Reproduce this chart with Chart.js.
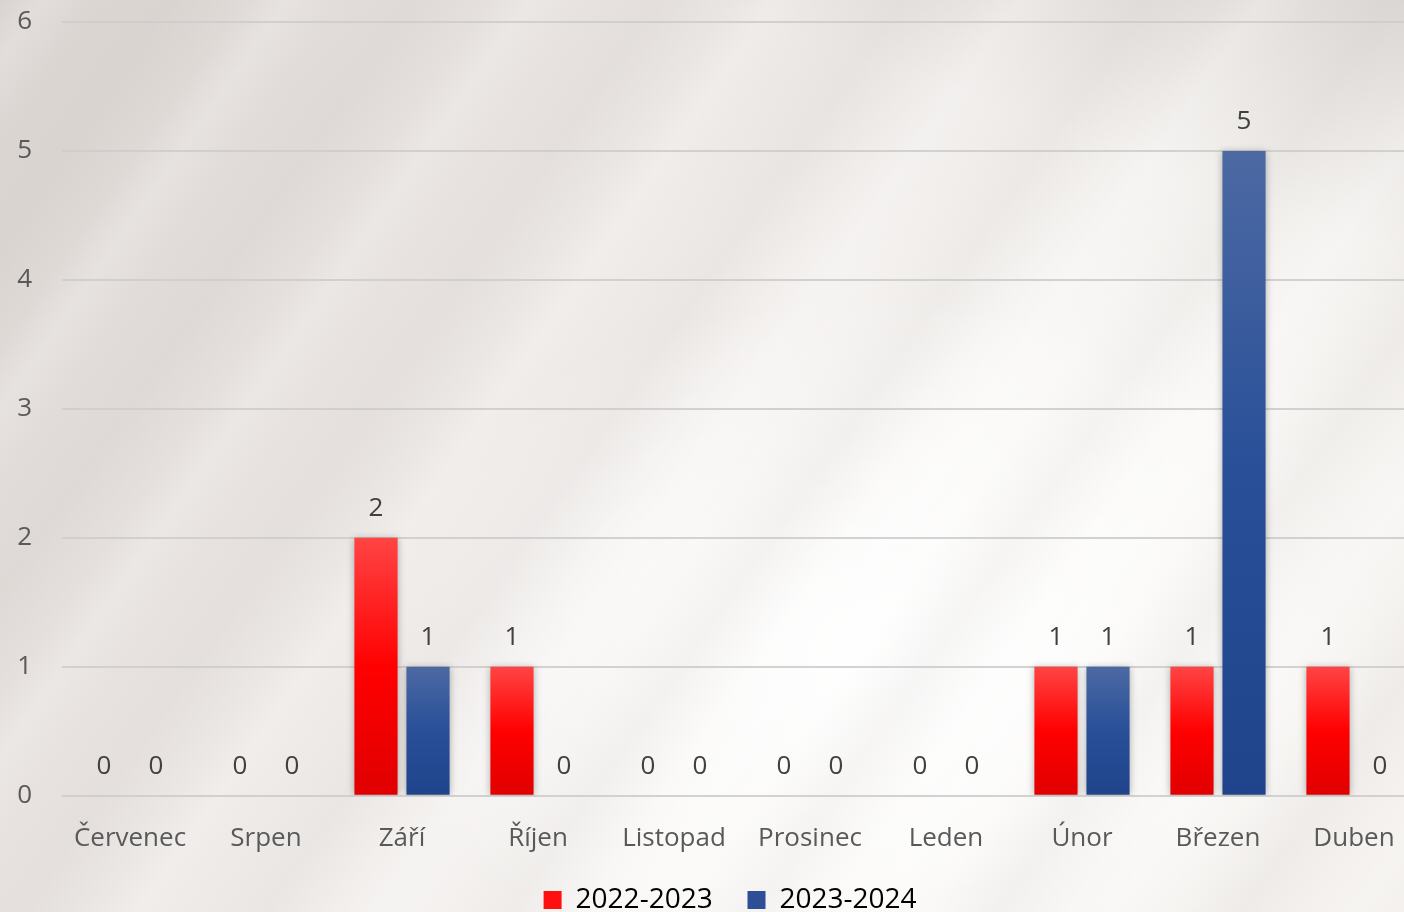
<!DOCTYPE html>
<html>
<head>
<meta charset="utf-8">
<script src="https://cdn.jsdelivr.net/npm/chart.js@4"></script>
<style>
  html, body { margin: 0; padding: 0; }
  body {
    width: 1404px; height: 912px; overflow: hidden; position: relative;
    background:
      repeating-linear-gradient(125deg, rgba(255,255,255,0) 0px, rgba(255,255,255,0.22) 35px, rgba(255,255,255,0) 80px, rgba(190,184,180,0.12) 140px, rgba(255,255,255,0) 200px),
      radial-gradient(ellipse 520px 360px at 880px 650px, rgba(255,255,255,0.95), rgba(255,255,255,0)),
      linear-gradient(200deg, rgba(215,210,207,0.8) 0%, rgba(230,226,223,0.3) 18%, rgba(255,255,255,0) 35%),
      linear-gradient(125deg, #d9d3d0 0%, #e7e2df 28%, #f2efed 48%, #fbfaf8 68%, #f3f0ed 100%);
  }
  #wrap { position: absolute; left: 0; top: -21px; width: 1460px; height: 945px; }
</style>
</head>
<body>
<div id="wrap"><canvas id="chart" width="1460" height="945"></canvas></div>
<script>
const months = ['Červenec', 'Srpen', 'Září', 'Říjen', 'Listopad', 'Prosinec', 'Leden', 'Únor', 'Březen', 'Duben'];
const season1 = [0, 0, 2, 1, 0, 0, 0, 1, 1, 1];
const season2 = [0, 0, 1, 0, 0, 0, 0, 1, 5, 0];
const seasonNames = ['2022-2023', '2023-2024'];
const yTicks = [0, 1, 2, 3, 4, 5, 6];

const textFont = '"Open Sans", sans-serif';

// gradient per bar, from its top down to the zero line
function barFill(stops) {
  return ctx => {
    const chart = ctx.chart;
    const y = chart.scales.y;
    if (!y || ctx.raw === undefined) return stops[1];
    const top = y.getPixelForValue(ctx.raw);
    const bottom = y.getPixelForValue(0);
    if (bottom - top < 1) return stops[1];
    const g = chart.ctx.createLinearGradient(0, top, 0, bottom);
    g.addColorStop(0, stops[0]);
    g.addColorStop(0.5, stops[1]);
    g.addColorStop(1, stops[2]);
    return g;
  };
}

const barShadow = {
  id: 'barShadow',
  beforeDatasetsDraw(chart) {
    const c = chart.ctx;
    c.save();
    c.shadowColor = 'rgba(0,0,0,0.28)';
    c.shadowBlur = 7;
  },
  afterDatasetsDraw(chart) {
    chart.ctx.restore();
  }
};

// nudge the legend a bit right, the original sits off-centre
const legendShift = {
  id: 'legendShift',
  afterLayout(chart) {
    if (chart.legend) {
      chart.legend.left += 30;
      chart.legend.right += 30;
    }
  }
};

const valueLabels = {
  id: 'valueLabels',
  afterDatasetsDraw(chart) {
    const c = chart.ctx;
    c.save();
    c.font = '26px ' + textFont;
    c.fillStyle = '#404040';
    c.textAlign = 'center';
    c.textBaseline = 'middle';
    chart.data.datasets.forEach((ds, i) => {
      chart.getDatasetMeta(i).data.forEach((bar, j) => {
        c.fillText(String(ds.data[j]), bar.x, bar.y - 29);
      });
    });
    c.restore();
  }
};

new Chart(document.getElementById('chart'), {
  type: 'bar',
  data: {
    labels: months,
    datasets: [
      { label: seasonNames[0], data: season1, backgroundColor: barFill(['#ff4444', '#ff0000', '#e00000']) },
      { label: seasonNames[1], data: season2, backgroundColor: barFill(['#4d69a3', '#284f98', '#1f448c']) }
    ]
  },
  options: {
    responsive: false,
    animation: false,
    layout: { padding: { top: 0, right: 38, left: 0, bottom: 0 } },
    categoryPercentage: 0.765,
    barPercentage: 0.83,
    plugins: {
      tooltip: { enabled: false },
      legend: {
        position: 'bottom',
        labels: {
          font: { family: textFont, size: 28 },
          color: '#595959',
          boxWidth: 18,
          boxHeight: 18,
          padding: 13,
          generateLabels: chart => chart.data.datasets.map((ds, i) => ({
            text: ds.label + '   ',
            fillStyle: i === 0 ? '#ff1010' : '#2c4f95',
            strokeStyle: 'rgba(0,0,0,0)',
            lineWidth: 0,
            datasetIndex: i
          }))
        }
      }
    },
    scales: {
      x: {
        grid: { display: false },
        border: { display: false },
        ticks: { color: '#595959', font: { family: textFont, size: 26 }, padding: 19, maxRotation: 0 }
      },
      y: {
        min: 0,
        max: 6,
        afterBuildTicks: axis => { axis.ticks = yTicks.map(v => ({ value: v })); },
        afterFit: axis => { axis.width = 62; },
        grid: { color: 'rgba(205,205,205,0.9)', lineWidth: 2, drawTicks: false },
        border: { display: false },
        ticks: { color: '#595959', font: { family: textFont, size: 26, lineHeight: 1.0 }, padding: 30 }
      }
    }
  },
  plugins: [barShadow, legendShift, valueLabels]
});
</script>
</body>
</html>
